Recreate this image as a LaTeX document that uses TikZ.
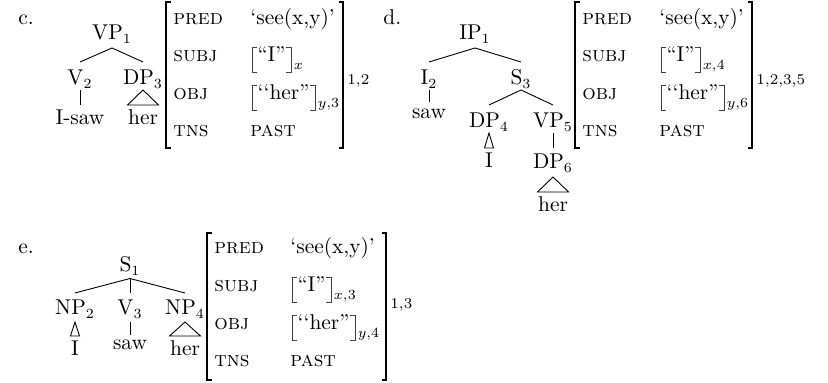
\documentclass[tikz,border=0pt]{standalone}
\usepackage{fontspec}
\usepackage{graphicx}
\setmainfont{Latin Modern Roman}[Ligatures=TeX,SmallCapsFont={Latin Modern Roman Caps}]
\newsavebox\scbox
\AtBeginDocument{%
  \sbox\scbox{\fontsize{10.7}{13}\selectfont\scshape pred}%
  \pgfmathsetmacro\scx{24.8pt/\wd\scbox}%
}
\newcommand\scatt[1]{\scalebox{\scx}{\scshape #1}}
\newcommand\ibr[5]{%
  \node[ival] (#1) at (#2,#3) {#4};
  \draw[ibrk] ([xshift=2.5pt]#1.north west) -- (#1.north west) -- (#1.south west) -- ([xshift=2.5pt]#1.south west);
  \draw[ibrk] ([xshift=-2.5pt]#1.north east) -- (#1.north east) -- (#1.south east) -- ([xshift=-2.5pt]#1.south east);
  \node[isub] (#1s) at ([xshift=1.2pt,yshift=-3.8pt]#1.base east) {$#5$};
}
\begin{document}
\begin{tikzpicture}[x=0.5pt,y=-0.5pt,
  every node/.style={inner sep=0pt,font=\fontsize{10.7}{13}\selectfont},
  word/.style={anchor=base},
  lbl/.style={anchor=base west},
  ival/.style={anchor=base west,inner xsep=2.6pt,inner ysep=0pt,text height=7pt,text depth=5pt},
  isub/.style={anchor=base west,font=\fontsize{7.5}{9}\selectfont},
  ibrk/.style={line width=0.4pt,black!75},
  supl/.style={anchor=base west,font=\fontsize{7.5}{9}\selectfont},
  branch/.style={line width=0.45pt},
  brk/.style={line width=0.6pt}]
\useasboundingbox (0,0) rectangle (828,383);

% ---------------- c ----------------
\node[lbl] (clab) at (18,25) {c.};
\node[word] (cvp) at (112,40) {VP$_1$};
\node[word] (cv) at (80,85) {V$_2$};
\node[word] (cdp) at (143,85) {DP$_3$};
\node[word] (cisaw) at (80,125) {I-saw};
\node[word] (cher) at (143,125) {her};
\draw[branch] ([yshift=-4pt]cvp.base) -- ([yshift=11.5pt]cv.base);
\draw[branch] ([yshift=-4pt]cvp.base) -- ([yshift=11.5pt]cdp.base);
\draw[branch] ([yshift=-2.5pt]cv.base) -- ([yshift=10pt]cisaw.base);
\draw[branch] ([yshift=-2.5pt]cdp.base) -- ([xshift=-7.75pt,yshift=10pt]cher.base)
  -- ([xshift=7.75pt,yshift=10pt]cher.base) -- cycle;
% AVM c
\draw[brk] (170.5,2) -- (166,2) -- (166,148) -- (170.5,148);
\draw[brk] (338.5,2) -- (343,2) -- (343,148) -- (338.5,148);
\node[lbl] (cpred) at (173,25) {\scatt{pred}};
\node[lbl] (csubj) at (173,62) {\scatt{subj}};
\node[lbl] (cobj) at (173,100) {\scatt{obj}};
\node[lbl] (ctns) at (173,137) {\scatt{tns}};
\node[lbl] (cpredv) at (250,25) {`see(x,y)'};
\ibr{csubjv}{252}{62}{``I''}{x}
\ibr{cobjv}{252}{100}{`{}`her''}{y{,}3}
\node[lbl] (ctnsv) at (250,137) {\scatt{past}};
\node[supl] (csup) at (347,85) {1,2};

% ---------------- d ----------------
\node[lbl] (dlab) at (383,25) {d.};
\node[word] (dip) at (475,40) {IP$_1$};
\node[word] (di) at (429,85) {I$_2$};
\node[word] (ds) at (521,85) {S$_3$};
\node[word] (dsaw) at (429,119) {saw};
\node[word] (ddp) at (489,128) {DP$_4$};
\node[word] (dvp) at (553,128) {VP$_5$};
\node[word] (dI) at (489,168) {I};
\node[word] (ddp6) at (553,169) {DP$_6$};
\node[word] (dher) at (553,212) {her};
\draw[branch] ([yshift=-4pt]dip.base) -- ([yshift=11.5pt]di.base);
\draw[branch] ([yshift=-4pt]dip.base) -- ([yshift=11.5pt]ds.base);
\draw[branch] ([yshift=-2.5pt]di.base) -- ([yshift=8.5pt]dsaw.base);
\draw[branch] ([yshift=-2.5pt]ds.base) -- ([yshift=11.5pt]ddp.base);
\draw[branch] ([yshift=-2.5pt]ds.base) -- ([yshift=11.5pt]dvp.base);
\draw[branch] ([yshift=-2.5pt]ddp.base) -- ([xshift=-2.25pt,yshift=10pt]dI.base)
  -- ([xshift=2.25pt,yshift=10pt]dI.base) -- cycle;
\draw[branch] ([yshift=-2.5pt]dvp.base) -- ([yshift=10.5pt]ddp6.base);
\draw[branch] ([yshift=-4pt]ddp6.base) -- ([xshift=-7.75pt,yshift=10pt]dher.base)
  -- ([xshift=7.75pt,yshift=10pt]dher.base) -- cycle;
% AVM d
\draw[brk] (579.5,2) -- (575,2) -- (575,148) -- (579.5,148);
\draw[brk] (747.5,2) -- (752,2) -- (752,148) -- (747.5,148);
\node[lbl] (dpred) at (582,25) {\scatt{pred}};
\node[lbl] (dsubj) at (582,62) {\scatt{subj}};
\node[lbl] (dobj) at (582,100) {\scatt{obj}};
\node[lbl] (dtns) at (582,137) {\scatt{tns}};
\node[lbl] (dpredv) at (659,25) {`see(x,y)'};
\ibr{dsubjv}{661}{62}{``I''}{x{,}4}
\ibr{dobjv}{661}{100}{`{}`her''}{y{,}6}
\node[lbl] (dtnsv) at (659,137) {\scatt{past}};
\node[supl] (dsup) at (756,85) {1,2,3,5};

% ---------------- e ----------------
\node[lbl] (elab) at (18,254) {e.};
\node[word] (es) at (130,272) {S$_1$};
\node[word] (enp) at (75,315) {NP$_2$};
\node[word] (ev) at (130,315) {V$_3$};
\node[word] (enp4) at (185,315) {NP$_4$};
\node[word] (eI) at (75,356) {I};
\node[word] (esaw) at (130,350) {saw};
\node[word] (eher) at (185,356) {her};
\draw[branch] ([yshift=-3.25pt]es.base) -- ([yshift=11pt]enp.base);
\draw[branch] ([yshift=-3.25pt]es.base) -- ([yshift=11pt]ev.base);
\draw[branch] ([yshift=-3.25pt]es.base) -- ([yshift=11pt]enp4.base);
\draw[branch] ([yshift=-3.5pt]enp.base) -- ([xshift=-2.25pt,yshift=10pt]eI.base)
  -- ([xshift=2.25pt,yshift=10pt]eI.base) -- cycle;
\draw[branch] ([yshift=-3.5pt]ev.base) -- ([yshift=7.5pt]esaw.base);
\draw[branch] ([yshift=-3.5pt]enp4.base) -- ([xshift=-7.75pt,yshift=10pt]eher.base)
  -- ([xshift=7.75pt,yshift=10pt]eher.base) -- cycle;
% AVM e
\draw[brk] (211.5,233) -- (207,233) -- (207,380) -- (211.5,380);
\draw[brk] (381.5,233) -- (386,233) -- (386,380) -- (381.5,380);
\node[lbl] (epred) at (214,254) {\scatt{pred}};
\node[lbl] (esubj) at (214,292) {\scatt{subj}};
\node[lbl] (eobj) at (214,330) {\scatt{obj}};
\node[lbl] (etns) at (214,367) {\scatt{tns}};
\node[lbl] (epredv) at (290,254) {`see(x,y)'};
\ibr{esubjv}{292}{292}{``I''}{x{,}3}
\ibr{eobjv}{292}{330}{`{}`her''}{y{,}4}
\node[lbl] (etnsv) at (290,367) {\scatt{past}};
\node[supl] (esup) at (390,309) {1,3};
\end{tikzpicture}
\end{document}
